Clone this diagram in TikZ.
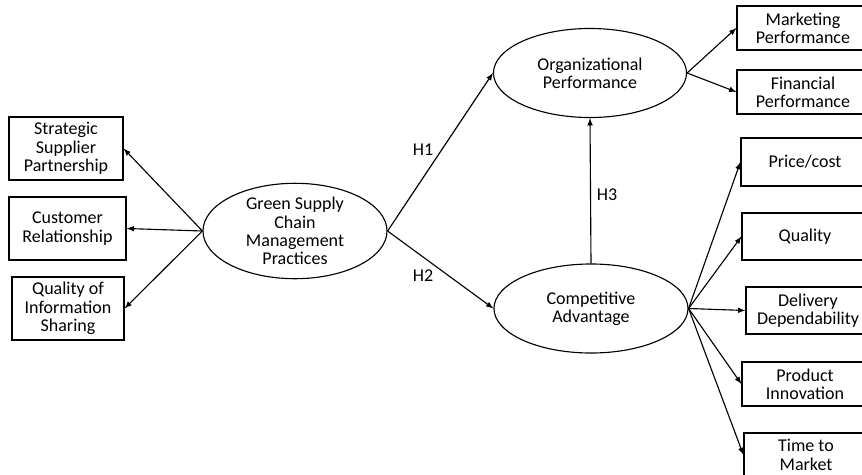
\documentclass[tikz,border=0pt]{standalone}
\usepackage{fontspec}
\setmainfont{Carlito}
\usetikzlibrary{shapes.geometric}

\tikzset{
  factor/.style={draw,thick,ellipse,inner sep=0pt,align=center},
  item/.style={draw,thick,rectangle,inner sep=0pt,align=center},
  path/.style={thick,-latex}
}

\begin{document}
\begin{tikzpicture}[x=0.025cm,y=-0.025cm,font=\fontsize{12.8}{13}\selectfont]
            \useasboundingbox (0,0) rectangle (862,474);

            % latent constructs
            \node[factor,minimum width=4.6cm,minimum height=2.2cm] (gscm) at (295,231) {Green Supply\\ Chain\\ Management\\ Practices};
            \node[factor,minimum width=4.825cm,minimum height=2.225cm] (org) at (590,73) {Organizational\\ Performance};
            \node[factor,minimum width=4.85cm,minimum height=2.225cm] (comp) at (591,308.5) {Competitive\\ Advantage};

            % indicators
            \node[item,minimum width=2.85cm,minimum height=1.575cm] (ssp) at (66,148.5) {Strategic\\ Supplier\\ Partnership};
            \node[item,minimum width=2.925cm,minimum height=1.575cm] (cr) at (67.5,228.5) {Customer\\ Relationship};
            \node[item,minimum width=2.8cm,minimum height=1.575cm] (qis) at (68,308.5) {Quality of\\ Information\\ Sharing};

            \node[item,minimum width=3.3cm,minimum height=1.1cm] (mp) at (803,28) {Marketing\\ Performance};
            \node[item,minimum width=3.3cm,minimum height=1.1cm] (fp) at (803,92) {Financial\\ Performance};

            \node[item,minimum width=3.2cm,minimum height=1.2cm] (pc) at (805,162) {Price/cost};
            \node[item,minimum width=3.15cm,minimum height=1.175cm] (ql) at (805,236.5) {Quality};
            \node[item,minimum width=3.1cm,minimum height=1.175cm] (dd) at (808,310.5) {Delivery\\ Dependability};
            \node[item,minimum width=3.15cm,minimum height=1.1cm] (pi) at (805,384) {Product\\ Innovation};
            \node[item,minimum width=3.1cm,minimum height=1.1cm] (tm) at (806,455) {Time to\\ Market};

            % hypothesis labels
            \node (h1) at (423,150) {H1};
            \node (h2) at (423,276) {H2};
            \node (h3) at (607,195) {H3};

            \draw[path] (gscm.west) to (ssp.east);
            \draw[path] (gscm.west) to (cr.east);
            \draw[path] (gscm.west) to (qis.east);

            \draw[path] (gscm.east) to (org.west);
            \draw[path] (gscm.east) to (comp.west);
            \draw[path] (comp.north) to (org.south);

            \draw[path] (org.east) to (mp.west);
            \draw[path] (org.east) to (fp.west);

            \draw[path] (comp.east) to (pc.west);
            \draw[path] (comp.east) to (ql.west);
            \draw[path] (comp.east) to (dd.west);
            \draw[path] (comp.east) to (pi.west);
            \draw[path] (comp.east) to (tm.west);
        \end{tikzpicture}
\end{document}
